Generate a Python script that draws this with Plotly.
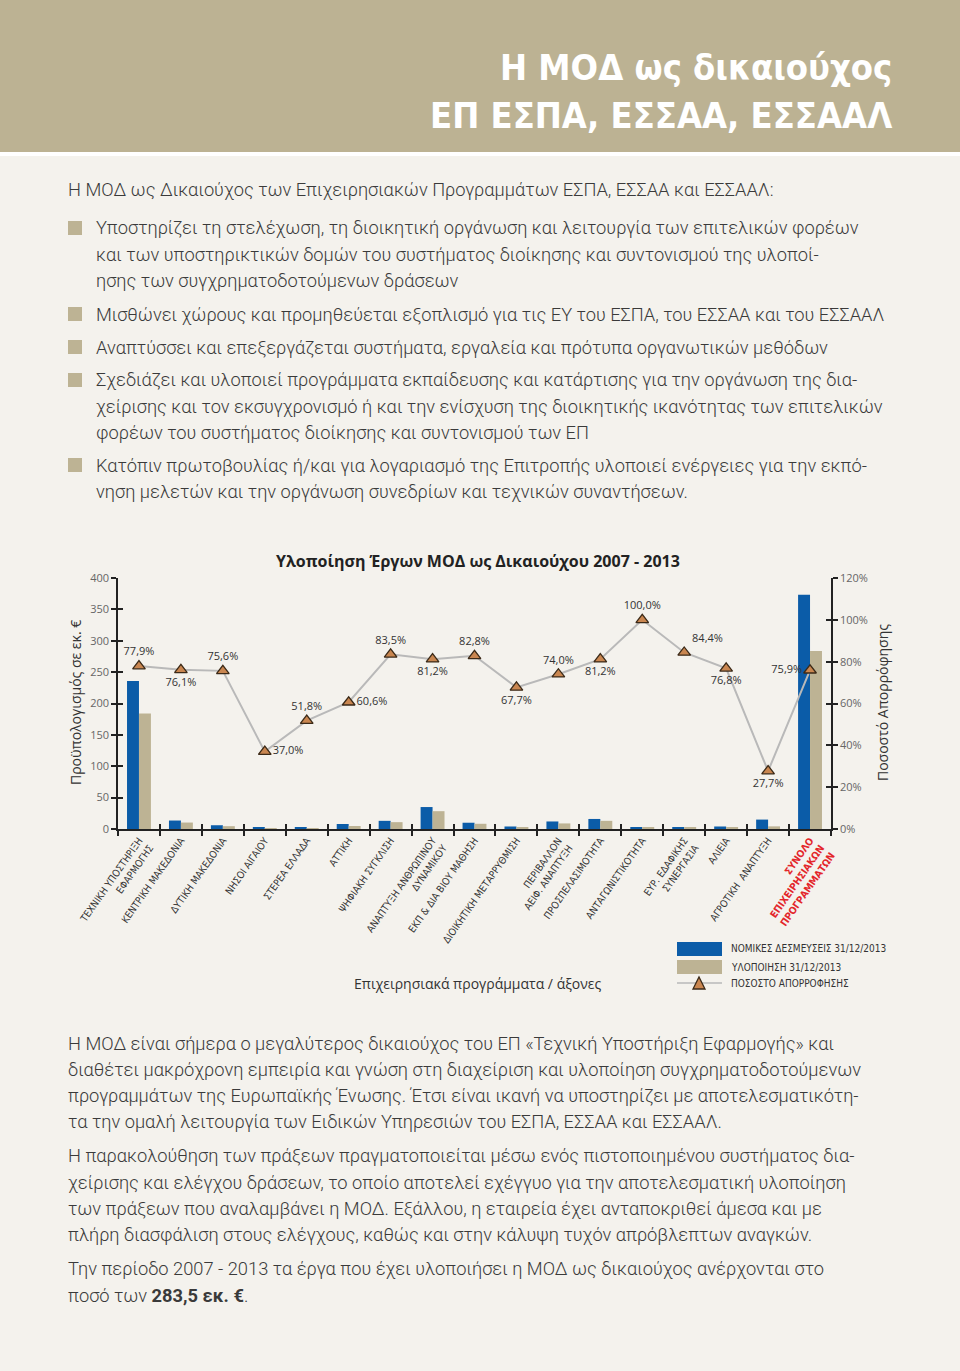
import plotly.graph_objects as go

W, H = 960, 1371

# ---------------- data ----------------
categories = [
    "ΤΕΧΝΙΚΗ ΥΠΟΣΤΗΡΙΞΗ<br>ΕΦΑΡΜΟΓΗΣ",
    "ΚΕΝΤΡΙΚΗ ΜΑΚΕΔΟΝΙΑ",
    "ΔΥΤΙΚΗ ΜΑΚΕΔΟΝΙΑ",
    "ΝΗΣΟΙ ΑΙΓΑΙΟΥ",
    "ΣΤΕΡΕΑ ΕΛΛΑΔΑ",
    "ΑΤΤΙΚΗ",
    "ΨΗΦΙΑΚΗ ΣΥΓΚΛΙΣΗ",
    "ΑΝΑΠΤΥΞΗ ΑΝΘΡΩΠΙΝΟΥ<br>ΔΥΝΑΜΙΚΟΥ",
    "ΕΚΠ & ΔΙΑ ΒΙΟΥ ΜΑΘΗΣΗ",
    "ΔΙΟΙΚΗΤΙΚΗ ΜΕΤΑΡΡΥΘΜΙΣΗ",
    "ΠΕΡΙΒΑΛΛΟΝ<br>ΑΕΙΦ. ΑΝΑΠΤΥΞΗ",
    "ΠΡΟΣΠΕΛΑΣΙΜΟΤΗΤΑ",
    "ΑΝΤΑΓΩΝΙΣΤΙΚΟΤΗΤΑ",
    "ΕΥΡ. ΕΔΑΦΙΚΗΣ<br>ΣΥΝΕΡΓΑΣΙΑ",
    "ΑΛΙΕΙΑ",
    "ΑΓΡΟΤΙΚΗ  ΑΝΑΠΤΥΞΗ",
    "ΣΥΝΟΛΟ<br>ΕΠΙΧΕΙΡΗΣΙΑΚΩΝ<br>ΠΡΟΓΡΑΜΜΑΤΩΝ",
]
commitments = [236.0, 13.5, 6.0, 2.5, 2.5, 8.0, 13.0, 35.0, 10.0, 4.0, 12.0, 16.0, 2.0, 3.0, 4.0, 15.0, 373.5]
implementation = [184.0, 10.3, 4.5, 0.9, 1.3, 4.8, 10.9, 28.4, 8.3, 2.7, 8.9, 13.0, 2.0, 2.5, 3.1, 4.2, 283.5]
absorption = [77.9, 76.1, 75.6, 37.0, 51.8, 60.6, 83.5, 81.2, 82.8, 67.7, 74.0, 81.2, 100.0, 84.4, 76.8, 27.7, 75.9]

left_ticks = [0, 50, 100, 150, 200, 250, 300, 350, 400]
right_ticks = [0, 20, 40, 60, 80, 100, 120]

header_lines = ["Η ΜΟΔ ως δικαιούχος", "ΕΠ ΕΣΠΑ, ΕΣΣΑΑ, ΕΣΣΑΑΛ"]
intro_line = "Η ΜΟΔ ως Δικαιούχος των Επιχειρησιακών Προγραμμάτων ΕΣΠΑ, ΕΣΣΑΑ και ΕΣΣΑΑΛ:"
bullets = [
    ["Υποστηρίζει τη στελέχωση, τη διοικητική οργάνωση και λειτουργία των επιτελικών φορέων",
     "και των υποστηρικτικών δομών του συστήματος διοίκησης και συντονισμού της υλοποί-",
     "ησης των συγχρηματοδοτούμενων δράσεων"],
    ["Μισθώνει χώρους και προμηθεύεται εξοπλισμό για τις ΕΥ του ΕΣΠΑ, του ΕΣΣΑΑ και του ΕΣΣΑΑΛ"],
    ["Αναπτύσσει και επεξεργάζεται συστήματα, εργαλεία και πρότυπα οργανωτικών μεθόδων"],
    ["Σχεδιάζει και υλοποιεί προγράμματα εκπαίδευσης και κατάρτισης για την οργάνωση της δια-",
     "χείρισης και τον εκσυγχρονισμό ή και την ενίσχυση της διοικητικής ικανότητας των επιτελικών",
     "φορέων του συστήματος διοίκησης και συντονισμού των ΕΠ"],
    ["Κατόπιν πρωτοβουλίας ή/και για λογαριασμό της Επιτροπής υλοποιεί ενέργειες για την εκπό-",
     "νηση μελετών και την οργάνωση συνεδρίων και τεχνικών συναντήσεων."],
]
paragraphs = [
    ["Η ΜΟΔ είναι σήμερα ο μεγαλύτερος δικαιούχος του ΕΠ «Τεχνική Υποστήριξη Εφαρμογής» και",
     "διαθέτει μακρόχρονη εμπειρία και γνώση στη διαχείριση και υλοποίηση συγχρηματοδοτούμενων",
     "προγραμμάτων της Ευρωπαϊκής Ένωσης. Έτσι είναι ικανή να υποστηρίζει με αποτελεσματικότη-",
     "τα την ομαλή λειτουργία των Ειδικών Υπηρεσιών του ΕΣΠΑ, ΕΣΣΑΑ και ΕΣΣΑΑΛ."],
    ["Η παρακολούθηση των πράξεων πραγματοποιείται μέσω ενός πιστοποιημένου συστήματος δια-",
     "χείρισης και ελέγχου δράσεων, το οποίο αποτελεί εχέγγυο για την αποτελεσματική υλοποίηση",
     "των πράξεων που αναλαμβάνει η ΜΟΔ. Εξάλλου, η εταιρεία έχει ανταποκριθεί άμεσα και με",
     "πλήρη διασφάλιση στους ελέγχους, καθώς και στην κάλυψη τυχόν απρόβλεπτων αναγκών."],
    ["Την περίοδο 2007 - 2013 τα έργα που έχει υλοποιήσει η ΜΟΔ ως δικαιούχος ανέρχονται στο",
     "ποσό των <b>283,5 εκ. €</b>."],
]
chart_title = "Υλοποίηση Έργων ΜΟΔ ως Δικαιούχου 2007 - 2013"
legend_labels = ["ΝΟΜΙΚΕΣ ΔΕΣΜΕΥΣΕΙΣ 31/12/2013", "ΥΛΟΠΟΙΗΣΗ 31/12/2013", "ΠΟΣΟΣΤΟ ΑΠΟΡΡΟΦΗΣΗΣ"]

# ---------------- style ----------------
BG = "#f4f2ed"
BAND = "#bcb293"
BLUE = "#0b5ca8"
BEIGE = "#bdb394"
TXT = "#3a3a3a"
BODY_FONT = "Roboto"
HEAD_FONT = "DejaVu Sans Condensed, sans-serif"
label_pos = ['top center', 'bottom center', 'top center', 'middle right', 'top center',
             'middle right', 'top center', 'bottom center', 'top center', 'bottom center',
             'top center', 'bottom center', 'top center', 'top right', 'bottom center',
             'bottom center', 'middle left']


def px(p):
    return p / W


def py(p):
    return 1 - p / H


plot_left, plot_right = 118, 831
plot_top, plot_bottom = 578, 829

fig = go.Figure()
fig.add_trace(go.Bar(x=categories, y=commitments, name=legend_labels[0],
                     marker=dict(color=BLUE, line=dict(width=0)), xaxis="x", yaxis="y"))
fig.add_trace(go.Bar(x=categories, y=implementation, name=legend_labels[1],
                     marker=dict(color=BEIGE, line=dict(width=0)), xaxis="x", yaxis="y"))
fig.add_trace(go.Scatter(
    x=categories, y=absorption, name=legend_labels[2], yaxis="y2", xaxis="x",
    mode="lines+markers+text",
    text=[f"{v:.1f}".replace(".", ",") + "%" for v in absorption],
    textposition=label_pos,
    textfont=dict(family="Open Sans", size=11, color="#333333"),
    line=dict(color="#b9b9b9", width=2),
    marker=dict(symbol="triangle-up", size=11, color="#c98650",
                line=dict(color="#3b2a18", width=1.3)),
    cliponaxis=False,
))

tickfont_x = dict(family="DejaVu Sans Condensed", size=10, color="#333333")
ticktext = list(categories)
ticktext[-1] = "<br>".join(f"<span style='color:#e3262b'><b>{t}</b></span>"
                           for t in categories[-1].split("<br>"))

dom_x = [px(plot_left), px(plot_right)]
dom_y = [py(plot_bottom), py(plot_top)]

fig.update_layout(
    template="none",
    width=W, height=H, autosize=False,
    margin=dict(l=0, r=0, t=0, b=0, pad=0, autoexpand=False),
    paper_bgcolor=BG, plot_bgcolor="rgba(0,0,0,0)",
    showlegend=False,
    barmode="group", bargap=0.43, bargroupgap=0,
    xaxis=dict(domain=dom_x, anchor="y", type="category", automargin=False,
               tickmode="array", tickvals=categories, ticktext=ticktext,
               tickangle=-55, tickfont=tickfont_x, tickson="boundaries",
               ticks="outside", ticklen=5, tickwidth=1.5, tickcolor="#222",
               showline=True, linecolor="#222", linewidth=1.5,
               showgrid=False, zeroline=False, range=[-0.5, 16.5]),
    yaxis=dict(domain=dom_y, anchor="x", range=[0, 400], tickvals=left_ticks, automargin=False,
               ticks="outside", ticklen=5, tickwidth=1.5, tickcolor="#222",
               tickfont=dict(family="Open Sans", size=11, color="#666"),
               showline=True, linecolor="#222", linewidth=1.5,
               showgrid=False, zeroline=False),
    yaxis2=dict(domain=dom_y, anchor="x", overlaying="y", side="right", automargin=False,
                range=[0, 120], tickvals=right_ticks,
                ticktext=[f"{t}%" for t in right_ticks],
                ticks="outside", ticklen=5, tickwidth=1.5, tickcolor="#222",
                tickfont=dict(family="Open Sans", size=11, color="#666"),
                showline=True, linecolor="#222", linewidth=1.5,
                showgrid=False, zeroline=False),
    xaxis2=dict(domain=dom_x, anchor="y3", overlaying="x", range=[-0.5, 16.5], automargin=False,
                tickvals=[i + 0.5 for i in range(16)], ticks="inside", ticklen=5,
                tickwidth=1.5, tickcolor="#222", showticklabels=False,
                showline=False, showgrid=False, zeroline=False),
    yaxis3=dict(domain=dom_y, anchor="x2", overlaying="y", range=[0, 400], automargin=False,
                tickvals=left_ticks, ticks="inside", ticklen=5, tickwidth=1.5,
                tickcolor="#222", showticklabels=False, showline=False,
                showgrid=False, zeroline=False),
    yaxis4=dict(domain=dom_y, anchor="x2", overlaying="y", side="right", range=[0, 120],
                automargin=False,
                tickvals=right_ticks, ticks="inside", ticklen=5, tickwidth=1.5,
                tickcolor="#222", showticklabels=False, showline=False,
                showgrid=False, zeroline=False),
)
fig.add_trace(go.Scatter(x=[0], y=[0], xaxis="x2", yaxis="y3", mode="markers",
                         marker=dict(opacity=0), hoverinfo="skip"))
fig.add_trace(go.Scatter(x=[0], y=[0], xaxis="x2", yaxis="y4", mode="markers",
                         marker=dict(opacity=0), hoverinfo="skip"))

shapes = []
annotations = []

shapes.append(dict(type="rect", xref="paper", yref="paper", x0=0, x1=1, y0=py(152), y1=1,
                   fillcolor=BAND, line=dict(width=0), layer="below"))
shapes.append(dict(type="rect", xref="paper", yref="paper", x0=0, x1=1, y0=py(156), y1=py(152),
                   fillcolor="#ffffff", line=dict(width=0), layer="below"))
for t, yc in zip(header_lines, [68, 116]):
    annotations.append(dict(text=t, xref="paper", yref="paper", x=px(894), y=py(yc),
                            xanchor="right", yanchor="middle", showarrow=False,
                            font=dict(family=HEAD_FONT, size=36, color="white",
                                      weight="bold")))

body_font = dict(family=BODY_FONT, size=18.3, color=TXT, weight=300)

annotations.append(dict(text=intro_line, xref="paper", yref="paper", x=px(66), y=py(189),
                        xanchor="left", yanchor="middle", showarrow=False, font=body_font))

bullet_line_y = [[228, 255, 281], [314], [347], [380, 406, 432], [465, 491]]
for lines, ys in zip(bullets, bullet_line_y):
    y0 = ys[0]
    shapes.append(dict(type="rect", xref="paper", yref="paper",
                       x0=px(68), x1=px(82), y0=py(y0 + 7), y1=py(y0 - 7),
                       fillcolor=BEIGE, line=dict(width=0)))
    for t, yy in zip(lines, ys):
        annotations.append(dict(text=t, xref="paper", yref="paper", x=px(94), y=py(yy),
                                xanchor="left", yanchor="middle", showarrow=False, font=body_font))

para_y = [[1043, 1069, 1095, 1121], [1155, 1182, 1208, 1234], [1268, 1295]]
for lines, ys in zip(paragraphs, para_y):
    for t, yy in zip(lines, ys):
        annotations.append(dict(text=t, xref="paper", yref="paper", x=px(66), y=py(yy),
                                xanchor="left", yanchor="middle", showarrow=False, font=body_font))

annotations.append(dict(text=f"<b>{chart_title}</b>", xref="paper", yref="paper", x=px(478), y=py(561),
                        xanchor="center", yanchor="middle", showarrow=False,
                        font=dict(family="Open Sans", size=16, color="#222")))
annotations.append(dict(text="Προϋπολογισμός σε εκ. €", xref="paper", yref="paper", x=px(75), y=py(703),
                        xanchor="center", yanchor="middle", textangle=-90, showarrow=False,
                        font=dict(family="Open Sans", size=14, color="#333")))
annotations.append(dict(text="Ποσοστό Απορρόφησης", xref="paper", yref="paper", x=px(882), y=py(703),
                        xanchor="center", yanchor="middle", textangle=-90, showarrow=False,
                        font=dict(family="Open Sans", size=14, color="#333")))
annotations.append(dict(text="Επιχειρησιακά προγράμματα / άξονες", xref="paper", yref="paper",
                        x=px(478), y=py(983), xanchor="center", yanchor="middle", showarrow=False,
                        font=dict(family="Open Sans", size=14, color="#333")))

shapes.append(dict(type="rect", xref="paper", yref="paper", x0=px(677), x1=px(722),
                   y0=py(956), y1=py(942), fillcolor=BLUE, line=dict(width=0)))
shapes.append(dict(type="rect", xref="paper", yref="paper", x0=px(677), x1=px(722),
                   y0=py(974), y1=py(960), fillcolor=BEIGE, line=dict(width=0)))
shapes.append(dict(type="line", xref="paper", yref="paper", x0=px(677), x1=px(722),
                   y0=py(983), y1=py(983), line=dict(color="#b9b9b9", width=1.5)))
tri = f"M {px(693)},{py(989)} L {px(705)},{py(989)} L {px(699)},{py(977)} Z"
shapes.append(dict(type="path", xref="paper", yref="paper", path=tri,
                   fillcolor="#c98650", line=dict(color="#3b2a18", width=1.3)))
for t, yy in zip(legend_labels, [949, 967, 983]):
    annotations.append(dict(text=t, xref="paper", yref="paper", x=px(729), y=py(yy),
                            xanchor="left", yanchor="middle", showarrow=False,
                            font=dict(family="DejaVu Sans Condensed", size=10, color="#333")))

fig.update_layout(shapes=shapes, annotations=annotations)
fig.write_html("out.html", config={"displayModeBar": False},
               post_script="document.body.style.margin='0';document.body.style.background='" + BG + "';")
